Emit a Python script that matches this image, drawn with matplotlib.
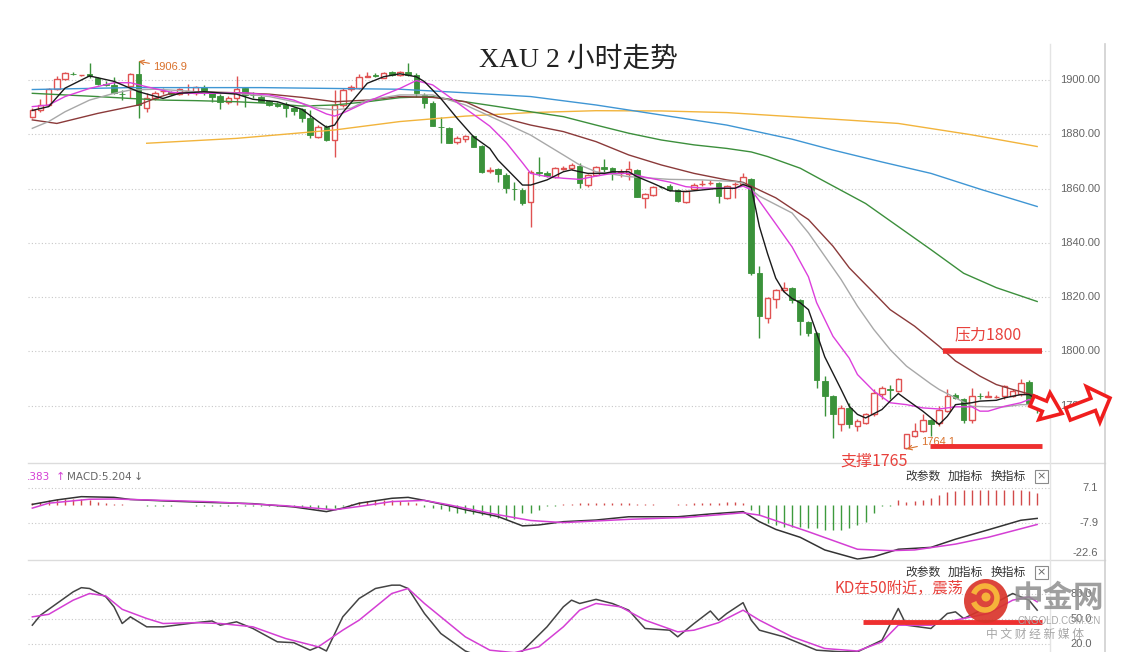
import numpy as np
import matplotlib
matplotlib.use('Agg')
import matplotlib.pyplot as plt
import matplotlib.transforms as mtransforms
from matplotlib.patches import Rectangle, FancyArrow, Circle, Arc

plt.rcParams['font.family'] = ['Noto Sans CJK SC', 'DejaVu Sans']

# 2 hour XAU candles, bar 0 .. 123
opens = [1886.5, 1889.0, 1890.8, 1896.6, 1900.2, 1902.4, 1901.8, 1902.2, 1900.6, 1898.6,
         1898.2, 1895.0, 1897.8, 1902.3, 1889.6, 1893.2, 1895.9, 1895.6, 1894.8, 1895.8,
         1895.1, 1897.3, 1895.1, 1894.1, 1892.0, 1893.2, 1896.9, 1894.6, 1893.9, 1892.3,
         1891.0, 1891.2, 1889.6, 1889.2, 1885.9, 1879.1, 1882.8, 1877.9, 1890.8, 1896.6,
         1896.9, 1901.2, 1901.8, 1900.9, 1903.1, 1901.8, 1902.8, 1901.8, 1894.5, 1891.7,
         1882.8, 1882.2, 1877.3, 1878.1, 1879.4, 1875.7, 1866.5, 1867.1, 1865.0, 1859.9,
         1859.5, 1855.2, 1866.0, 1865.9, 1864.4, 1867.3, 1867.5, 1868.3, 1861.3, 1865.0,
         1867.8, 1867.5, 1865.9, 1865.4, 1866.8, 1856.6, 1857.5, 1860.6, 1861.1, 1859.4,
         1855.0, 1859.9, 1861.6, 1861.9, 1862.1, 1856.6, 1861.6, 1861.8, 1863.7, 1828.9,
         1812.4, 1819.4, 1822.6, 1823.4, 1819.1, 1810.8, 1806.8, 1789.0, 1783.5, 1773.1,
         1779.2, 1772.5, 1773.7, 1776.8, 1784.5, 1786.3, 1785.4, 1764.5, 1768.8, 1770.6,
         1774.7, 1773.7, 1778.0, 1784.1, 1782.5, 1774.9, 1783.7, 1783.3, 1783.2, 1783.5,
         1783.5, 1784.5, 1788.7, 1781.1]
highs = [1889.6, 1893.0, 1897.2, 1901.5, 1902.8, 1902.8, 1902.0, 1906.1, 1901.0, 1899.5,
         1901.0, 1896.5, 1902.6, 1906.9, 1895.1, 1896.0, 1897.0, 1896.0, 1897.0, 1898.5,
         1897.9, 1898.0, 1895.6, 1895.0, 1894.0, 1901.5, 1897.5, 1895.7, 1894.3, 1892.8,
         1891.8, 1891.8, 1890.2, 1889.8, 1889.0, 1883.4, 1883.4, 1896.3, 1896.9, 1898.0,
         1902.1, 1902.8, 1902.6, 1903.0, 1903.5, 1903.2, 1906.1, 1902.5, 1895.1, 1892.3,
         1886.5, 1882.6, 1879.4, 1879.8, 1879.9, 1876.2, 1867.9, 1867.6, 1865.6, 1862.6,
         1860.1, 1866.8, 1871.8, 1866.5, 1868.0, 1868.3, 1869.5, 1869.3, 1865.5, 1868.4,
         1870.8, 1868.0, 1867.2, 1870.0, 1867.4, 1858.4, 1861.0, 1861.0, 1861.6, 1859.9,
         1859.5, 1862.2, 1863.2, 1863.0, 1862.6, 1861.4, 1862.4, 1865.8, 1864.0, 1831.4,
         1820.2, 1823.0, 1825.6, 1823.6, 1819.3, 1811.2, 1807.0, 1790.9, 1783.8, 1780.4,
         1781.1, 1775.0, 1777.2, 1786.0, 1787.2, 1787.8, 1790.3, 1769.6, 1773.5, 1776.8,
         1775.0, 1779.8, 1786.0, 1784.6, 1782.9, 1786.6, 1784.6, 1785.4, 1783.8, 1787.8,
         1786.0, 1789.9, 1789.4, 1782.0]
lows = [1885.9, 1888.3, 1890.5, 1896.3, 1900.0, 1901.9, 1901.5, 1900.8, 1898.2, 1897.8,
        1894.8, 1892.8, 1893.2, 1885.9, 1888.4, 1892.5, 1895.0, 1894.6, 1894.5, 1894.5,
        1894.5, 1894.5, 1892.0, 1889.2, 1891.2, 1890.8, 1890.2, 1893.4, 1891.8, 1890.3,
        1890.0, 1886.5, 1887.2, 1884.7, 1878.5, 1878.8, 1877.6, 1871.8, 1890.2, 1896.0,
        1896.6, 1901.0, 1901.0, 1900.6, 1901.4, 1901.5, 1901.5, 1893.9, 1889.6, 1883.0,
        1876.9, 1876.9, 1876.4, 1877.3, 1875.4, 1865.6, 1865.6, 1862.6, 1858.2, 1855.8,
        1854.0, 1846.0, 1864.8, 1864.2, 1863.8, 1866.7, 1867.0, 1860.1, 1860.7, 1864.8,
        1866.2, 1863.2, 1864.2, 1863.2, 1857.0, 1852.7, 1857.3, 1860.2, 1859.0, 1855.0,
        1854.6, 1859.6, 1860.9, 1861.3, 1854.7, 1856.2, 1856.5, 1861.5, 1828.3, 1805.0,
        1810.5, 1816.0, 1821.8, 1817.9, 1806.2, 1805.6, 1786.6, 1776.1, 1768.2, 1770.6,
        1771.8, 1770.6, 1773.4, 1776.4, 1782.3, 1782.3, 1785.0, 1764.1, 1768.6, 1770.4,
        1768.8, 1772.7, 1777.7, 1782.3, 1773.7, 1773.7, 1782.3, 1783.2, 1782.8, 1782.3,
        1783.2, 1783.5, 1779.8, 1777.3]
closes = [1889.0, 1890.8, 1896.6, 1900.2, 1902.5, 1902.2, 1901.8, 1901.6, 1898.5, 1898.2,
          1895.3, 1894.8, 1902.3, 1890.8, 1893.2, 1895.3, 1896.1, 1895.0, 1896.6, 1895.9,
          1897.3, 1895.1, 1893.9, 1892.0, 1893.2, 1896.6, 1894.5, 1894.5, 1892.0, 1890.8,
          1890.6, 1889.6, 1888.6, 1885.9, 1879.7, 1882.8, 1877.9, 1890.8, 1896.3, 1897.5,
          1901.2, 1901.3, 1901.6, 1902.5, 1901.8, 1902.8, 1902.0, 1895.1, 1891.4, 1883.1,
          1882.6, 1876.9, 1878.5, 1879.4, 1875.4, 1866.2, 1866.8, 1865.4, 1860.1, 1859.7,
          1854.6, 1866.2, 1865.9, 1864.6, 1867.5, 1867.5, 1868.7, 1862.2, 1865.0, 1868.1,
          1867.1, 1865.6, 1866.0, 1867.1, 1857.0, 1858.0, 1860.7, 1860.5, 1859.4, 1855.3,
          1859.0, 1861.5, 1861.8, 1862.1, 1857.2, 1860.9, 1861.8, 1864.3, 1828.9, 1813.0,
          1819.7, 1822.6, 1823.4, 1819.1, 1811.1, 1806.8, 1789.6, 1783.5, 1776.8, 1779.2,
          1773.1, 1774.3, 1776.8, 1784.7, 1786.6, 1785.9, 1789.9, 1769.4, 1770.6, 1774.7,
          1773.1, 1778.6, 1783.5, 1782.9, 1774.9, 1783.5, 1783.5, 1783.5, 1783.2, 1787.2,
          1785.4, 1788.4, 1781.1, 1780.0]

# moving averages (bar number, value)
ma5_at = [0, 2, 4, 7, 10, 13, 16, 18, 21, 25, 27, 30, 33, 35, 36, 37, 38, 41, 43, 45,
          47, 48, 50, 52, 54, 56, 57, 60, 61, 63, 65, 66, 67, 68, 70, 71, 73, 74, 76, 78,
          80, 82, 84, 86, 87, 88, 89, 90, 91, 92, 93, 94, 95, 96, 97, 99, 100, 101, 102, 104,
          105, 106, 107, 109, 111, 112, 113, 115, 116, 118, 119, 121, 122, 123]
ma5 = [1888.8, 1890.2, 1897.0, 1901.5, 1899.5, 1895.7, 1893.2, 1895.1, 1895.7, 1894.8,
       1892.9, 1892.0, 1889.2, 1884.7, 1882.6, 1883.4, 1888.0, 1898.8, 1901.2, 1902.3,
       1901.2, 1899.4, 1893.2, 1885.9, 1879.1, 1874.8, 1870.5, 1861.3, 1861.3, 1863.2,
       1866.2, 1866.9, 1866.2, 1865.6, 1865.6, 1866.2, 1866.2, 1864.4, 1861.9, 1859.2,
       1858.9, 1859.5, 1860.1, 1860.1, 1861.5, 1860.5, 1846.0, 1836.0, 1827.0, 1822.0,
       1819.5, 1817.9, 1815.4, 1806.8, 1798.0, 1786.0, 1779.8, 1776.8, 1775.5, 1778.6,
       1781.7, 1784.5, 1782.3, 1778.0, 1773.1, 1776.1, 1780.4, 1781.1, 1781.7, 1782.0,
       1782.9, 1784.1, 1784.1, 1782.3]
ma10_at = [0, 2, 4, 7, 10, 12, 14, 17, 19, 23, 26, 29, 32, 34, 36, 37, 38, 41, 43, 45,
           47, 49, 51, 53, 56, 58, 60, 61, 63, 65, 67, 69, 71, 73, 75, 78, 80, 82, 86, 87,
           88, 91, 93, 95, 96, 98, 100, 101, 103, 105, 107, 109, 111, 113, 115, 116, 117, 119,
           121, 122, 123]
ma10 = [1890.2, 1890.8, 1893.9, 1896.9, 1899.0, 1899.0, 1897.5, 1895.5, 1895.1, 1895.1,
        1895.3, 1894.5, 1892.6, 1890.2, 1887.5, 1886.7, 1887.8, 1892.0, 1894.5, 1896.9,
        1899.8, 1898.2, 1893.9, 1889.5, 1883.0, 1877.0, 1869.5, 1865.6, 1864.4, 1863.8,
        1863.4, 1864.6, 1865.6, 1865.6, 1864.2, 1862.4, 1860.7, 1860.2, 1860.1, 1860.9,
        1859.6, 1847.0, 1838.5, 1827.5, 1818.0, 1805.6, 1797.5, 1791.5, 1785.4, 1781.1,
        1780.4, 1779.2, 1778.8, 1779.6, 1779.6, 1778.0, 1778.0, 1779.8, 1781.1, 1782.3,
        1781.0]
ma20_at = [0, 2, 4, 7, 10, 12, 15, 17, 20, 25, 29, 33, 35, 37, 39, 41, 45, 49, 53, 57,
           61, 65, 67, 69, 73, 78, 82, 86, 87, 89, 93, 95, 97, 99, 101, 103, 105, 107, 110, 111,
           113, 115, 117, 119, 121, 123]
ma20 = [1882.2, 1884.7, 1888.3, 1892.6, 1895.1, 1896.3, 1896.6, 1896.3, 1895.7, 1895.1,
        1893.9, 1891.4, 1889.6, 1889.0, 1889.6, 1892.6, 1894.5, 1894.5, 1890.8, 1885.3,
        1879.7, 1872.4, 1868.7, 1866.2, 1864.4, 1863.4, 1863.2, 1862.6, 1862.0, 1857.2,
        1851.0, 1843.7, 1835.1, 1826.5, 1816.7, 1808.1, 1800.7, 1794.6, 1788.0, 1786.0,
        1782.9, 1779.8, 1779.6, 1779.6, 1780.4, 1780.4]
ma30_at = [0, 3, 8, 13, 15, 17, 20, 25, 29, 33, 37, 41, 45, 49, 53, 57, 61, 65, 69, 73,
           77, 81, 85, 87, 91, 95, 98, 100, 103, 105, 108, 111, 113, 116, 118, 120, 123]
ma30 = [1885.3, 1884.0, 1887.7, 1890.8, 1893.2, 1895.1, 1895.7, 1895.3, 1894.8, 1893.6,
        1892.0, 1892.6, 1893.9, 1893.6, 1892.0, 1886.5, 1883.4, 1881.0, 1877.3, 1872.4,
        1868.7, 1865.6, 1863.2, 1862.3, 1856.6, 1848.6, 1838.8, 1830.8, 1821.6, 1815.4,
        1809.3, 1801.9, 1796.5, 1790.9, 1787.8, 1786.0, 1783.5]
ma60_at = [0, 4, 8, 12, 16, 20, 25, 29, 33, 37, 41, 45, 49, 53, 57, 61, 65, 69, 73, 77,
           81, 85, 88, 90, 94, 97, 102, 106, 110, 114, 118, 123]
ma60 = [1895.1, 1894.5, 1893.9, 1893.2, 1892.6, 1892.4, 1892.0, 1891.4, 1890.4, 1890.8,
        1892.0, 1893.5, 1893.9, 1892.0, 1890.2, 1888.3, 1886.5, 1883.4, 1880.4, 1877.9,
        1876.1, 1874.8, 1873.5, 1871.8, 1867.5, 1862.6, 1854.5, 1846.0, 1837.5, 1828.8,
        1823.5, 1818.4]
ma120_at = [0, 12, 28, 45, 53, 61, 69, 77, 85, 93, 98, 104, 110, 116, 123]
ma120 = [1896.5, 1897.2, 1897.2, 1896.6, 1895.3, 1893.9, 1890.8, 1887.1, 1883.4, 1878.2,
         1874.2, 1869.8, 1865.6, 1859.8, 1853.4]
ma250_at = [14, 25, 37, 45, 53, 61, 69, 77, 85, 93, 100, 106, 115, 123]
ma250 = [1876.7, 1878.5, 1881.6, 1884.7, 1886.7, 1888.0, 1888.7, 1888.6, 1888.0, 1886.5,
         1885.2, 1884.0, 1879.8, 1875.5]

# MACD
dif_at = [0, 3, 6, 10, 12, 16, 20, 27, 32, 36, 38, 40, 44, 46, 48, 51, 53, 57, 60, 62,
          65, 69, 73, 79, 83, 87, 89, 91, 94, 97, 101, 103, 106, 110, 113, 117, 121, 123]
dif = [0.2, 2.1, 3.5, 3.2, 2.3, 1.7, 1.2, 0.5, -0.9, -2.9, -1.4, 0.7, 2.8, 3.2, 1.9,
       -0.4, -2.1, -5.0, -9.0, -8.6, -7.2, -6.5, -5.1, -5.1, -3.9, -2.9, -7.2, -10.5,
       -13.9, -19.3, -23.2, -22.2, -19.0, -18.2, -14.7, -10.7, -6.6, -5.8]
dea_at = [0, 2, 7, 10, 16, 22, 31, 37, 40, 44, 48, 51, 56, 61, 65, 73, 80, 87, 89, 95,
          101, 105, 108, 113, 117, 123]
dea = [-1.4, 0.7, 2.4, 2.5, 1.9, 1.3, -0.4, -2.1, -0.7, 1.4, 1.9, 0.0, -3.6, -6.7, -7.6,
       -6.2, -5.4, -3.4, -4.4, -11.5, -19.0, -19.6, -19.3, -16.8, -13.9, -8.4]
macd_hist = [1.0, 1.4, 1.9, 2.4, 2.4, 2.6, 2.4, 2.0, 1.4, 1.0,
             0.5, 0.2, -0.1, -0.2, -0.3, -0.3, -0.3, -0.3, -0.2, -0.2,
             -0.3, -0.3, -0.3, -0.4, -0.4, -0.3, -0.3, -0.4, -0.4, -0.5,
             -0.5, -0.6, -0.7, -0.9, -1.3, -1.6, -1.8, -1.2, -0.3, 0.5,
             1.2, 1.8, 2.0, 2.2, 2.0, 1.8, 1.4, 0.8, -0.8, -1.4,
             -1.8, -2.8, -3.5, -3.5, -3.8, -4.2, -5.0, -5.7, -6.1, -6.1,
             -3.5, -3.5, -2.1, -0.7, -0.7, 0.3, 0.5, 0.6, 0.8, 0.9,
             1.0, 1.0, 0.8, 0.6, 0.3, 0.2, 0.2, 0.1, 0.1, 0.3,
             0.5, 0.6, 0.8, 1.0, 1.0, 1.2, 1.4, 0.8, -2.1, -4.3,
             -7.9, -8.6, -9.3, -9.3, -9.3, -10.0, -10.0, -10.8, -10.8, -10.8,
             -10.0, -8.6, -7.2, -3.6, -0.7, -0.3, 2.1, 1.4, 1.7, 2.1,
             2.8, 4.2, 5.6, 6.0, 6.4, 6.4, 6.4, 6.4, 6.4, 6.4,
             6.4, 6.4, 6.0, 5.2]

# KD
k_at = [0, 1, 3, 5, 6, 7, 9, 10, 11, 12, 14, 16, 20, 22, 23, 25, 27, 30, 32, 34,
        35, 36, 38, 40, 42, 44, 45, 46, 48, 50, 53, 55, 58, 60, 63, 65, 66, 67, 69, 71,
        73, 75, 78, 79, 81, 83, 84, 85, 87, 88, 89, 92, 96, 99, 101, 104, 106, 107, 110, 112,
        113, 114, 117, 120, 122, 123]
k_line = [43, 55, 69, 83, 88, 87, 77, 65, 45, 53, 41, 41, 46, 48, 43, 47, 39, 23, 22, 13,
          17, 12, 53, 75, 87, 91, 91, 87, 57, 33, 12, 5, 5, 12, 41, 65, 73, 69, 74, 69,
          61, 39, 37, 29, 45, 60, 49, 57, 70, 49, 37, 29, 13, 11, 11, 25, 63, 43, 39, 57,
          59, 51, 65, 81, 73, 61]
d_at = [0, 2, 5, 7, 9, 11, 14, 16, 20, 23, 27, 31, 35, 38, 40, 44, 46, 48, 53, 56,
        59, 62, 65, 67, 69, 72, 75, 79, 81, 84, 87, 89, 93, 97, 101, 104, 106, 110, 113, 117,
        120, 122, 123]
d_line = [53, 56, 73, 81, 78, 62, 51, 45, 46, 45, 41, 27, 17, 37, 49, 81, 87, 69, 29, 13,
          10, 17, 41, 61, 69, 65, 49, 35, 37, 46, 61, 49, 29, 15, 12, 23, 43, 43, 49, 57,
          73, 77, 71]

price_ticks = [1900, 1880, 1860, 1840, 1820, 1800, 1780]
macd_ticks = [7.1, -7.9, -22.6]
kd_ticks = [80.0, 50.0, 20.0]
resistance = 1800
support = 1765
kd_mark = 47
high_bar, high_val = 13, 1906.9
low_bar, low_val = 107, 1764.1

RED = '#e05252'
GREEN = '#3a923a'
W, H = 1121, 652

fig = plt.figure(figsize=(W / 100, H / 100), dpi=100)


def px_box(l, t, r, b):
    return [l / W, 1 - b / H, (r - l) / W, (b - t) / H]


ax = fig.add_axes(px_box(28, 45, 1050, 463))
axm = fig.add_axes(px_box(28, 463, 1050, 560))
axk = fig.add_axes(px_box(28, 560, 1050, 652))

for a in (ax, axm, axk):
    a.set_xlim(-0.53, 124.57)
    for s in a.spines.values():
        s.set_visible(False)
    a.tick_params(left=False, bottom=False, labelleft=False, labelbottom=False)
    a.grid(axis='y', color='#c8c8c8', linestyle=(0, (1, 2)), linewidth=0.8)
    a.set_axisbelow(True)

ax.set_ylim(1758.9, 1912.9)
ax.set_yticks(price_ticks)
axm.set_ylim(-23.6, 17.9)
axm.set_yticks(macd_ticks[:2])
axk.set_ylim(10.8, 121.2)
axk.set_yticks(kd_ticks)

# candles
o, h, l, c = map(np.array, (opens, highs, lows, closes))
bars = np.arange(len(o))
up = c >= o
ax.vlines(bars, l, h, colors=np.where(up, RED, GREEN), linewidth=1, zorder=2)
body_lo = np.minimum(o, c)
body_h = np.maximum(np.abs(c - o), 0.15)
ax.bar(bars[up], body_h[up], bottom=body_lo[up], width=0.68,
       facecolor='white', edgecolor=RED, linewidth=1, zorder=3)
ax.bar(bars[~up], body_h[~up], bottom=body_lo[~up], width=0.68,
       facecolor=GREEN, edgecolor=GREEN, linewidth=0.6, zorder=3)

ax.plot(ma250_at, ma250, color='#f2b43c', lw=1, zorder=4)
ax.plot(ma120_at, ma120, color='#3f96d4', lw=1, zorder=4)
ax.plot(ma60_at, ma60, color='#3c8f3c', lw=1, zorder=4)
ax.plot(ma30_at, ma30, color='#8b3a3a', lw=1, zorder=4)
ax.plot(ma20_at, ma20, color='#a8a8a8', lw=1, zorder=4)
ax.plot(ma10_at, ma10, color='#dc3fdc', lw=1, zorder=4)
ax.plot(ma5_at, ma5, color='#1a1a1a', lw=1, zorder=5)

ORANGE = '#d9712c'
ax.annotate(f'{high_val}', xy=(high_bar, high_val), xytext=(15, -6),
            textcoords='offset pixels', ha='left', va='center', fontsize=8,
            family='Liberation Sans', color=ORANGE,
            arrowprops=dict(arrowstyle='->', color=ORANGE, lw=0.8, shrinkA=1, shrinkB=0))
ax.annotate(f'{low_val}', xy=(low_bar, low_val), xytext=(15, 7),
            textcoords='offset pixels', ha='left', va='center', fontsize=8,
            family='Liberation Sans', color=ORANGE, zorder=5,
            arrowprops=dict(arrowstyle='->', color=ORANGE, lw=0.8, shrinkA=1, shrinkB=0))

ax.hlines(resistance, 111.5, 123.6, color='#ee3030', lw=4, zorder=6)
ax.hlines(support, 109.9, 123.6, color='#ee3030', lw=3.5, zorder=6)

# MACD
axm.vlines(bars, 0, macd_hist, colors=np.where(np.array(macd_hist) >= 0, '#d24a4a', '#3d9a3d'),
           linewidth=1)
axm.plot(dif_at, dif, color='#333333', lw=1.1)
axm.plot(dea_at, dea, color='#d43fd4', lw=1.1)

# KD
axk.plot(k_at, k_line, color='#444444', lw=1.1)
axk.plot(d_at, d_line, color='#d43fd4', lw=1.1)
axk.hlines(kd_mark, 101.7, 123.6, color='#ee3030', lw=3.5, zorder=6)

# right side labels
lab = dict(ha='right', va='center', fontsize=8, color='#666666', family='Liberation Sans')
tr = mtransforms.blended_transform_factory(fig.transFigure, ax.transData)
for v in price_ticks:
    ax.text(1100 / W, v, f'{v:.2f}', transform=tr, **lab)
tr = mtransforms.blended_transform_factory(fig.transFigure, axm.transData)
for v in macd_ticks[:2]:
    axm.text(1098 / W, v, f'{v}', transform=tr, **lab)
axm.text(1098 / W, macd_ticks[2], f'{macd_ticks[2]}', transform=tr,
         **{**lab, 'va': 'bottom'})
tr = mtransforms.blended_transform_factory(fig.transFigure, axk.transData)
for v in kd_ticks:
    axk.text(1092 / W, v, f'{v:.1f}', transform=tr, **lab)

# overlay in pixel units for frame, titles and marks drawn by hand
ov = fig.add_axes([0, 0, 1, 1])
ov.set_xlim(0, W)
ov.set_ylim(H, 0)
ov.axis('off')
ov.set_zorder(10)

ov.plot([28, 1105], [463, 463], color='#dcdcdc', lw=1)
ov.plot([28, 1105], [560, 560], color='#dcdcdc', lw=1)
ov.plot([1050, 1050], [44, 652], color='#e4e4e4', lw=1)
ov.plot([1105, 1105], [44, 652], color='#cfcfcf', lw=1.2)

ov.text(578, 60, 'XAU 2 小时走势', ha='center', va='center', fontsize=20,
        family=['Liberation Serif', 'Noto Sans CJK SC'], color='#222222')

ov.text(27, 477, '.383', ha='left', va='center', fontsize=7.5, color='#d43fd4',
        family='DejaVu Sans')
ov.text(56, 477, '↑', ha='left', va='center', fontsize=8, color='#d43fd4', family='DejaVu Sans')
ov.text(67, 477, 'MACD:5.204', ha='left', va='center', fontsize=7.5, color='#666666',
        family='DejaVu Sans')
ov.text(134, 477, '↓', ha='left', va='center', fontsize=8, color='#666666', family='DejaVu Sans')

for yb in (476, 572):
    for xb, s in ((905, '改参数'), (948, '加指标'), (991, '换指标')):
        ov.text(xb, yb, s, ha='left', va='center', fontsize=8.5, color='#333333')
    ov.add_patch(Rectangle((1035, yb - 6.5), 13, 13, facecolor='white',
                           edgecolor='#8a8a8a', lw=0.8))
    ov.text(1041.5, yb, '×', ha='center', va='center', fontsize=8, color='#666666',
            family='DejaVu Sans')

ov.text(988, 335, '压力1800', ha='center', va='center', fontsize=11.5, color='#e8413c')
ov.text(874, 461, '支撑1765', ha='center', va='center', fontsize=11.5, color='#e8413c')
ov.text(835, 588, 'KD在50附近，震荡', ha='left', va='center', fontsize=11, color='#e8413c')

for (x, y, dx, dy, wd, hw, hl) in ((1032, 401, 30, 12.5, 11, 29, 19),
                                    (1068, 414, 42, -16, 13, 38, 18)):
    ov.add_patch(FancyArrow(x, y, dx, dy, width=wd, head_width=hw, head_length=hl,
                            length_includes_head=True, facecolor='white',
                            edgecolor='#f01e1e', lw=2.6, zorder=12))

# watermark
ov.add_patch(Circle((986, 601), 22, facecolor='#d9352b', edgecolor='none', alpha=0.92, zorder=11))
ov.add_patch(Arc((985, 598), 24, 24, theta1=200, theta2=520, color='#f6b23a', lw=4, zorder=12))
ov.add_patch(Circle((986, 597), 4.5, facecolor='#f6b23a', edgecolor='none', zorder=12))
ov.text(1058, 598, '中金网', ha='center', va='center', fontsize=22, fontweight='bold',
        color='#8e8e8e', alpha=0.85, zorder=11)
ov.text(1059, 621, 'CNGOLD.COM.CN', ha='center', va='center', fontsize=7,
        family='Liberation Sans', color='#a6a6a6', zorder=11)
ov.text(1035, 634, '中 文 财 经 新 媒 体', ha='center', va='center', fontsize=8.5,
        color='#a6a6a6', zorder=11)

fig.savefig('out.png', dpi=100)
